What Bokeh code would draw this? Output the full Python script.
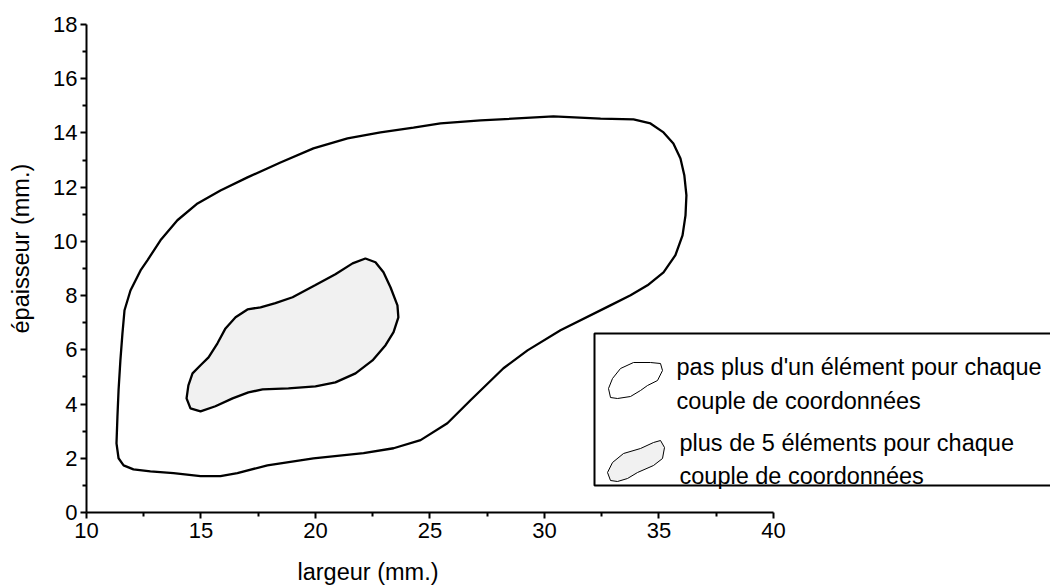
import numpy as np
from bokeh.plotting import figure
from bokeh.models import Range1d, FixedTicker, Label, BoxAnnotation, PolyAnnotation
from bokeh.embed import file_html
from bokeh.resources import INLINE

# ---------------- data ----------------
# outer contour: "pas plus d'un élément pour chaque couple de coordonnées"
outer_x = [11.40, 11.31, 11.35, 11.40, 11.48, 11.57, 11.66, 11.92, 12.36, 12.66,
           13.23, 13.97, 14.85, 15.85, 17.03, 18.47, 19.91, 21.40, 22.84, 24.28,
           25.46, 27.21, 30.39, 32.45, 33.89, 34.63, 35.20, 35.63, 35.94, 36.11,
           36.20, 36.16, 36.03, 35.72, 35.20, 34.50, 33.76, 32.88, 30.70, 29.26,
           28.21, 26.77, 25.76, 24.59, 23.41, 22.10, 19.91, 17.90, 16.59, 15.85,
           14.98, 13.80, 12.79, 12.05, 11.62]
outer_y = [2.00, 2.55, 3.51, 4.51, 5.61, 6.61, 7.46, 8.19, 8.93, 9.30,
           10.04, 10.78, 11.40, 11.88, 12.36, 12.91, 13.43, 13.80, 14.02, 14.20,
           14.35, 14.46, 14.61, 14.53, 14.50, 14.35, 14.02, 13.61, 13.06, 12.43,
           11.70, 10.96, 10.22, 9.49, 8.86, 8.38, 8.01, 7.64, 6.72, 5.98,
           5.32, 4.14, 3.29, 2.67, 2.37, 2.19, 2.00, 1.74, 1.45, 1.34,
           1.34, 1.45, 1.52, 1.59, 1.74]

# inner contour: "plus de 5 éléments pour chaque couple de coordonnées"
inner_x = [22.18, 22.62, 22.97, 23.28, 23.58, 23.62, 23.41, 23.06, 22.49, 21.75,
           20.87, 20.00, 18.82, 17.69, 17.07, 16.38, 15.63, 14.98, 14.54, 14.37,
           14.45, 14.63, 14.98, 15.33, 15.72, 16.07, 16.51, 17.03, 17.60, 18.25,
           19.00, 20.00, 20.87, 21.62]
inner_y = [9.37, 9.23, 8.86, 8.30, 7.64, 7.20, 6.65, 6.17, 5.61, 5.13,
           4.80, 4.65, 4.58, 4.54, 4.43, 4.21, 3.92, 3.73, 3.84, 4.21,
           4.69, 5.13, 5.43, 5.72, 6.24, 6.79, 7.20, 7.49, 7.57, 7.72,
           7.94, 8.39, 8.79, 9.19]

x_ticks = [10, 15, 20, 25, 30, 35, 40]
y_ticks = [0, 2, 4, 6, 8, 10, 12, 14, 16, 18]
x_title = "largeur (mm.)"
y_title = "épaisseur (mm.)"
legend_lines = [["pas plus d'un élément pour chaque", "couple de coordonnées"],
                ["plus de 5 éléments pour chaque", "couple de coordonnées"]]

# ---------------- styling / layout ----------------
FONT = "Liberation Sans"
W, H = 1050, 587
FILL_GREY = "#f1f1f1"

p = figure(width=W, height=H, output_backend="svg", toolbar_location=None,
           x_range=Range1d(10, 52.10), y_range=Range1d(0, 18),
           min_border_left=86, min_border_right=0, min_border_top=24,
           min_border_bottom=75, background_fill_color="white",
           border_fill_color="white")
p.outline_line_color = None
p.xgrid.visible = False
p.ygrid.visible = False

x_minor = [(a + b) / 2 for a, b in zip(x_ticks[:-1], x_ticks[1:])]
y_minor = [(a + b) / 2 for a, b in zip(y_ticks[:-1], y_ticks[1:])]
xax = p.xaxis[0]
yax = p.yaxis[0]
xax.ticker = FixedTicker(ticks=x_ticks, minor_ticks=x_minor)
yax.ticker = FixedTicker(ticks=y_ticks, minor_ticks=y_minor)
xax.bounds = (x_ticks[0], x_ticks[-1])
yax.bounds = (y_ticks[0], y_ticks[-1])

for ax in (xax, yax):
    ax.axis_line_width = 2
    ax.axis_line_color = "black"
    ax.major_tick_line_width = 2
    ax.minor_tick_line_width = 2
    ax.major_tick_line_color = "black"
    ax.minor_tick_line_color = "black"
    ax.major_tick_out = 6
    ax.major_tick_in = 0
    ax.minor_tick_out = 4
    ax.minor_tick_in = 0
    ax.major_label_text_font = FONT
    ax.major_label_text_font_size = "22px"
    ax.major_label_text_color = "black"
xax.major_label_standoff = 4
yax.major_label_standoff = 3

# axis titles (side-panel labels, canvas pixels)
p.add_layout(Label(x=297, y=571, x_units="canvas", y_units="canvas", text=x_title,
                   text_font=FONT, text_font_size="23.5px", text_align="left",
                   text_baseline="alphabetic", text_color="black"), "below")
p.add_layout(Label(x=20, y=333, x_units="canvas", y_units="canvas", text=y_title,
                   angle=np.pi / 2, text_font=FONT, text_font_size="23.5px",
                   text_align="left", text_baseline="alphabetic",
                   text_color="black"), "left")

# contours
p.patch(outer_x, outer_y, fill_color=None, line_color="black", line_width=2.3)
p.patch(inner_x, inner_y, fill_color=FILL_GREY, line_color="black", line_width=2.3)

# legend box (canvas pixels)
p.add_layout(BoxAnnotation(left=594, right=1100, top=333, bottom=485,
                           left_units="canvas", right_units="canvas",
                           top_units="canvas", bottom_units="canvas",
                           fill_color="white", fill_alpha=1.0,
                           line_color="black", line_width=2, line_alpha=1.0))

blob1_x = [610, 608, 612, 620, 633, 650, 660, 662, 657, 647, 640, 630, 617]
blob1_y = [397, 388, 378, 368, 362, 362, 363, 370, 380, 385, 390, 396, 398]
blob2_x = [610, 607, 612, 623, 640, 653, 660, 664, 662, 653, 637, 627, 617]
blob2_y = [480, 472, 462, 453, 448, 442, 440, 447, 458, 465, 472, 478, 481]
p.add_layout(PolyAnnotation(xs=blob1_x, ys=blob1_y, xs_units="canvas", ys_units="canvas",
                            fill_color="white", fill_alpha=1.0,
                            line_color="black", line_width=1, line_alpha=1.0))
p.add_layout(PolyAnnotation(xs=blob2_x, ys=blob2_y, xs_units="canvas", ys_units="canvas",
                            fill_color=FILL_GREY, fill_alpha=1.0,
                            line_color="black", line_width=1, line_alpha=1.0))

legend_pos = [[(676, 366), (676, 400)], [(679, 442), (679, 475)]]
for lines, poss in zip(legend_lines, legend_pos):
    for txt, (lx, ly) in zip(lines, poss):
        p.add_layout(Label(x=lx, y=ly, x_units="canvas", y_units="canvas", text=txt,
                           text_font=FONT, text_font_size="23.5px", text_align="left",
                           text_baseline="alphabetic", text_color="black"))

open("out.html", "w").write(file_html(p, INLINE))
